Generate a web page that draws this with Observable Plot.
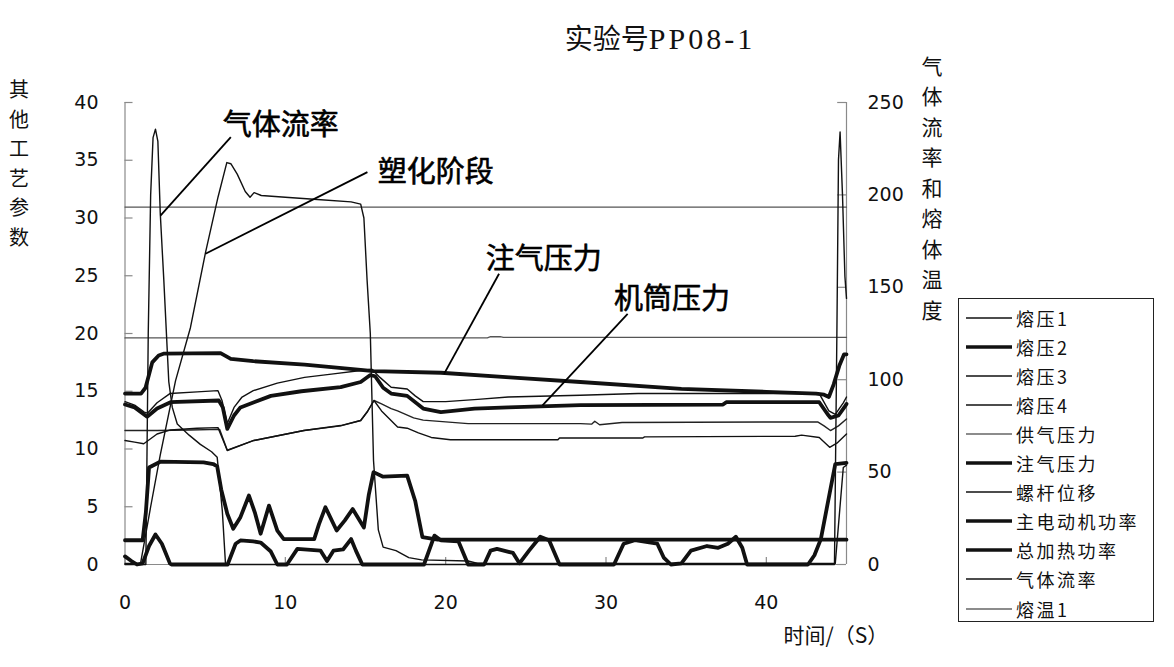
<!DOCTYPE html>
<html><head><meta charset="utf-8">
<script src="https://cdn.jsdelivr.net/npm/d3@7"></script>
<script src="https://cdn.jsdelivr.net/npm/@observablehq/plot@0.6"></script>
<style>
body{margin:0;background:#fff;}
#wrap{position:relative;width:1174px;height:667px;overflow:hidden;background:#fff;}
#title{height:30px;padding-top:22px;line-height:30px;text-align:center;padding-left:146px;color:#111;white-space:nowrap;}
#title .cn{font-family:"Noto Sans CJK SC",sans-serif;font-size:28px;}
#title .en{font-family:"Liberation Serif",serif;font-size:30px;letter-spacing:3px;}
#chart svg{display:block;}
#legend{position:absolute;left:958px;top:298px;width:194px;height:322px;border:1.5px solid #222;background:#fff;font-family:"Noto Sans CJK SC",sans-serif;font-size:18px;color:#111;}
#legend .row{position:absolute;left:0;height:24px;display:flex;align-items:center;}
#legend .row span{letter-spacing:2.5px;line-height:24px;}
</style></head><body>
<div id="wrap"><div id="title"></div><div id="chart"></div><div id="legend"></div></div>
<script>
// ---------- data (x = 时间 s; left-axis units unless noted) ----------
const titleParts = ["实验号", "PP08-1"];
const seriesNames = ["熔压1","熔压2","熔压3","熔压4","供气压力","注气压力","螺杆位移","主电动机功率","总加热功率","气体流率","熔温1"];
const rightAxisSeries = ["气体流率","熔温1"];

const melt1 = [[0,14.1],[0.6,13.8],[1.2,13.2],[1.4,13.1],[2.0,14.0],[2.8,14.8],[4.5,14.95],[5.8,15.05],[6.05,14.2],[6.38,12.2],[6.8,13.6],[7.3,14.5],[8.0,15.05],[9.5,15.7],[11.2,16.2],[13.0,16.5],[14.7,16.8],[15.4,16.9],[15.9,16.2],[16.6,15.35],[17.6,15.2],[18.1,14.6],[18.6,14.1],[20,14.1],[22,14.3],[23.9,14.5],[28.4,14.65],[32,14.8],[43.3,14.8],[43.9,13.3],[44.3,13.0],[44.8,14.0],[45,14.5]];
const melt2 = [[0,13.85],[0.6,13.6],[1.38,12.8],[2.0,13.5],[2.84,14.05],[5.85,14.2],[6.1,13.6],[6.38,11.75],[6.8,12.9],[7.2,13.6],[9.1,14.6],[11,15.0],[13.45,15.35],[14.7,15.8],[15.3,16.4],[15.6,16.3],[16.1,15.3],[16.6,14.8],[17.6,14.6],[18.6,13.5],[19.7,13.2],[21.8,13.5],[23.9,13.6],[28.4,13.8],[37.3,13.85],[37.5,14.05],[43.3,14.05],[43.8,13.05],[44.0,12.7],[44.5,12.9],[44.86,13.6],[45,13.9]];
const melt3 = [[0,11.6],[1.0,11.6],[2.0,11.6],[4.0,11.65],[5.9,11.7],[6.38,9.9],[8.04,10.74],[11.16,11.6],[13.45,12.0],[14.7,12.47],[15.1,13.2],[15.53,14.2],[16.0,13.9],[16.6,13.5],[17.0,13.3],[18.0,12.7],[18.6,12.5],[21.4,12.2],[28.4,12.2],[29.1,12.15],[29.3,12.4],[29.6,12.1],[31,12.3],[43.2,12.35],[43.6,12.0],[44.0,11.6],[44.5,12.0],[45,12.6]];
const melt4 = [[0,10.74],[0.6,10.6],[1.17,10.45],[2.0,11.3],[2.84,11.65],[4.5,11.8],[5.8,11.85],[6.38,9.87],[8.04,10.74],[11.16,11.6],[13.45,12.03],[14.7,12.47],[15.1,13.2],[15.53,14.2],[16.0,13.3],[16.5,12.6],[17.0,11.9],[17.6,11.8],[18.3,11.4],[19.1,11.0],[20.3,10.8],[27.0,10.8],[27.1,10.95],[32.3,10.95],[32.4,11.05],[41.8,11.1],[42.2,11.2],[43.3,11.0],[43.95,10.15],[44.4,10.5],[45,11.3]];
const supplyGas = [[0,19.62],[22.6,19.62],[22.8,19.72],[23.4,19.72],[23.6,19.66],[45,19.66]];
const injectGas = [[0,14.8],[1.0,14.8],[1.28,15.3],[1.7,17.5],[2.1,18.1],[2.4,18.25],[5.96,18.3],[6.6,17.8],[8.0,17.6],[11.2,17.3],[14.7,16.85],[15.5,16.75],[19.7,16.6],[24,16.2],[28.4,15.8],[34.7,15.2],[40,14.95],[43.1,14.8],[43.6,14.7],[43.9,14.5],[44.2,15.6],[44.55,17.2],[44.85,18.2],[45,18.2]];
const screw = [[0,0.1],[0.97,0.1],[1.6,5],[2.2,9.5],[3.15,15.9],[4.08,20.5],[5.02,27.0],[5.8,31.8],[6.35,34.8],[6.6,34.7],[7.0,33.8],[7.5,32.3],[7.8,31.8],[8.05,32.2],[8.5,31.95],[10,31.8],[12,31.6],[14.1,31.4],[14.7,31.2],[14.9,30.0],[15.1,24.6],[15.3,20.0],[15.5,9],[15.8,3],[16.1,1.5],[16.9,1.2],[17.7,0.6],[18.5,0.4],[21.4,0.3],[22,0.1],[44.3,0.1],[44.8,8.4],[45,8.6]];
const motorPower = [[0,2.1],[1.1,2.1],[1.3,4.5],[1.5,8.4],[2.2,8.9],[4.9,8.85],[5.5,8.7],[5.75,8.5],[6.0,6.5],[6.38,4.4],[6.75,3.1],[7.2,4.1],[7.73,5.97],[8.1,4.5],[8.46,2.66],[8.98,5.1],[9.5,2.94],[9.9,2.2],[11.8,2.2],[12.1,3.5],[12.5,4.96],[13.2,2.94],[13.7,3.8],[14.2,4.8],[14.9,3.2],[15.2,6.0],[15.5,8.0],[16.1,7.6],[17.6,7.7],[18.1,5.5],[18.55,2.36],[19.5,2.15],[45,2.15]];
const heatPower = [[0,0.7],[0.4,0.3],[0.75,0],[1.1,0.1],[1.5,1.6],[1.9,2.6],[2.3,1.8],[2.8,0.1],[2.9,0],[6.4,0],[6.9,1.8],[7.2,2.08],[8.0,2.0],[8.46,1.9],[9.08,1.15],[9.5,0],[10.1,0],[10.75,1.35],[12.2,1.2],[12.6,0.3],[13.0,1.2],[13.6,1.3],[14.1,2.2],[14.4,1.2],[14.8,0],[18.65,0],[19.3,2.5],[19.7,2.1],[20.8,2.0],[21.4,0],[22.4,0],[22.8,1.2],[23.2,1.35],[24.2,1.0],[24.6,0.1],[25.2,1.2],[25.9,2.4],[26.45,2.1],[27.1,0],[30.5,0],[31.1,1.8],[31.8,2.1],[33.2,1.8],[33.6,0.6],[34.05,0],[34.7,0.1],[35.3,1.2],[36.3,1.6],[37.0,1.45],[37.6,1.8],[38.1,2.4],[38.5,1.45],[38.8,0],[42.6,0],[43.0,0.8],[43.4,2.2],[44.3,8.7],[45,8.8]];
// right-axis units
const gasFlow = [[0,0],[1.3,0],[1.45,125],[1.6,200],[1.75,231],[1.9,235.6],[2.05,229],[2.2,190],[2.42,154],[2.73,99],[2.95,85],[3.26,76],[4.0,70],[4.7,65],[5.4,61],[5.75,58],[6.07,29],[6.27,0],[44.25,0],[44.4,125],[44.5,219],[44.6,234],[44.75,200],[44.9,156],[45,144]];
const meltTemp = [[0,193.4],[45,193.4]];

const leftTicks = [0,5,10,15,20,25,30,35,40];
const rightTicks = [0,50,100,150,200,250];
const xTicks = [0,10,20,30,40];

const annoText = ["气体流率","塑化阶段","注气压力","机筒压力"];
const annoX = [6.09,15.76,22.5,30.5];
const annoY = [38.0,33.94,26.4,22.9];
const leaderFrom = [[6.6,37.0],[15.12,33.97],[23.33,25.17],[31.35,21.7]];
const leaderTo = [[2.21,30.2],[5.02,26.9],[19.9,16.5],[26.04,13.77]];

// ---------- build ----------
document.getElementById("title").innerHTML = `<span class="cn">${titleParts[0]}</span><span class="en">${titleParts[1]}</span>`;
const RATIO = 40 / 250;
const seriesData = {"熔压1":melt1,"熔压2":melt2,"熔压3":melt3,"熔压4":melt4,"供气压力":supplyGas,"注气压力":injectGas,"螺杆位移":screw,"主电动机功率":motorPower,"总加热功率":heatPower,"气体流率":gasFlow,"熔温1":meltTemp};
const styleOf = {
  "熔压1":{w:1.4,c:"#111"},"熔压2":{w:3.8,c:"#111"},"熔压3":{w:1.4,c:"#222"},"熔压4":{w:1.4,c:"#111"},
  "供气压力":{w:1.3,c:"#555"},"注气压力":{w:3.8,c:"#111"},"螺杆位移":{w:1.4,c:"#111"},
  "主电动机功率":{w:3.8,c:"#111"},"总加热功率":{w:3.8,c:"#111"},"气体流率":{w:1.4,c:"#111"},"熔温1":{w:1.3,c:"#555"}
};
const table = [];
for (const name of seriesNames) {
  const k = rightAxisSeries.includes(name) ? RATIO : 1;
  for (const [x, y] of seriesData[name]) table.push({series: name, x, y: y * k});
}
const drawOrder = ["熔温1","供气压力","熔压1","熔压3","熔压4","螺杆位移","气体流率","熔压2","注气压力","主电动机功率","总加热功率"];
const lineMarks = drawOrder.map(name => Plot.line(table.filter(d => d.series === name), {
  x: "x", y: "y", stroke: styleOf[name].c, strokeWidth: styleOf[name].w, strokeLinejoin: "round", strokeLinecap: "round"
}));

const annos = annoText.map((t, i) => ({t, x: annoX[i], y: annoY[i]}));
const leaders = leaderFrom.map((f, i) => ({x1: f[0], y1: f[1], x2: leaderTo[i][0], y2: leaderTo[i][1]}));
const axisGray = "#8a8a8a";
const numFont = "DejaVu Sans";
const cjk = "Noto Sans CJK SC";

const chart = Plot.plot({
  width: 1174, height: 615,
  marginLeft: 124.5, marginRight: 328, marginTop: 50, marginBottom: 103,
  x: {domain: [0, 45]},
  y: {domain: [0, 40]},
  style: {fontFamily: numFont, fontSize: "19px", color: "#111", background: "#fff", overflow: "visible"},
  marks: [
    Plot.ruleX([0, 45], {stroke: axisGray, strokeWidth: 1.2}),
    Plot.ruleY([0], {stroke: axisGray, strokeWidth: 1.2}),
    Plot.ruleY(leftTicks, {y: d => d, x1: 0, x2: 0.5, stroke: axisGray, strokeWidth: 1.2}),
    Plot.ruleY(rightTicks, {y: d => d * RATIO, x1: 44.45, x2: 45, stroke: axisGray, strokeWidth: 1.2}),
    Plot.ruleX(xTicks, {x: d => d, y1: 0, y2: 0.6, stroke: axisGray, strokeWidth: 1.2}),
    Plot.axisY(leftTicks, {anchor: "left", tickSize: 0, tickPadding: 26.5, label: null, fontSize: 19, fontFamily: numFont}),
    Plot.axisY(rightTicks.map(v => v * RATIO), {anchor: "right", tickSize: 0, tickPadding: 21, label: null, tickFormat: d => String(Math.round(d / RATIO)), fontSize: 19, fontFamily: numFont}),
    Plot.axisX(xTicks, {tickSize: 0, tickPadding: 31, label: null, fontSize: 19, fontFamily: numFont}),
    ...lineMarks,
    Plot.link(leaders, {x1: "x1", y1: "y1", x2: "x2", y2: "y2", stroke: "#000", strokeWidth: 1.8}),
    Plot.text(annos, {x: "x", y: "y", text: "t", textAnchor: "start", lineAnchor: "middle", fontSize: 29, fontFamily: cjk, fontWeight: "normal", fill: "#000", stroke: "#000", strokeWidth: 0.6}),
    Plot.text(["其\n他\n工\n艺\n参\n数"], {text: d => d, frameAnchor: "top-left", dx: -116, dy: 59, lineAnchor: "middle", lineHeight: 1.475, fontSize: 20, fontFamily: cjk, fill: "#111"}),
    Plot.text(["气\n体\n流\n率\n和\n熔\n体\n温\n度"], {text: d => d, frameAnchor: "top-right", dx: 96, dy: 83.5, lineAnchor: "middle", lineHeight: 1.45, fontSize: 21, fontFamily: cjk, fill: "#111"}),
    Plot.text(["时间/（S）"], {text: d => d, frameAnchor: "bottom-left", dx: 658.5, dy: 72, textAnchor: "start", lineAnchor: "middle", fontSize: 21, fontFamily: cjk, fill: "#111"})
  ]
});
document.getElementById("chart").appendChild(chart);

// ---------- legend ----------
const legend = document.getElementById("legend");
seriesNames.forEach((name, i) => {
  const row = document.createElement("div");
  row.className = "row";
  row.style.top = (18.5 + i * 29.1 - 12) + "px";
  const st = styleOf[name];
  const lc = (name === "供气压力" || name === "熔温1") ? "#666" : "#111";
  row.innerHTML = `<svg width="57" height="24" style="display:block"><line x1="7" x2="53" y1="12" y2="12" stroke="${lc}" stroke-width="${st.w > 2 ? 3.4 : 1.3}"/></svg><span>${name}</span>`;
  legend.appendChild(row);
});
</script>
</body></html>
